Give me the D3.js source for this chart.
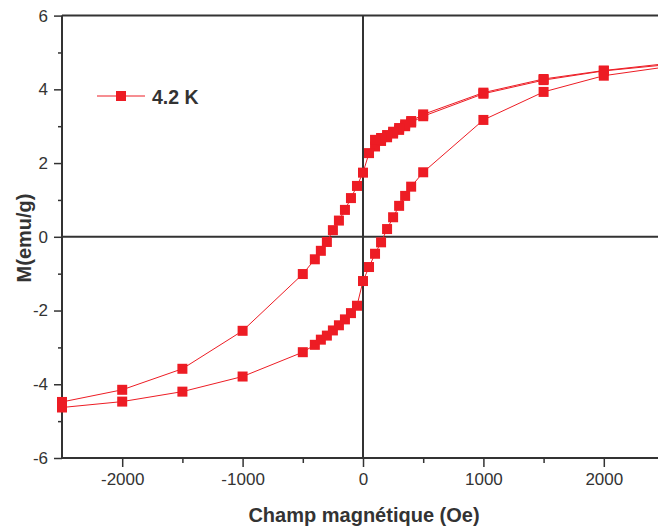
<!DOCTYPE html>
<html>
<head>
<meta charset="utf-8">
<script src="https://cdn.jsdelivr.net/npm/d3@7"></script>
<style>
  html, body { margin: 0; padding: 0; background: #fff; }
  svg { display: block; }
  text { font-family: "Liberation Sans", Arial, Helvetica, sans-serif; fill: #333; }
</style>
</head>
<body>
<svg id="chart" width="658" height="532"></svg>
<script>
// ---- data ----
const fieldDown = [2500, 2000, 1500, 1000, 500, 400, 350, 300, 250, 200, 150, 100, 50, 0, -50, -100, -150, -200, -250, -300, -350, -400, -500, -1000, -1500, -2000, -2500];
const mDown     = [4.69, 4.51, 4.28, 3.91, 3.32, 3.14, 3.05, 2.95, 2.85, 2.76, 2.68, 2.63, 2.27, 1.74, 1.38, 1.05, 0.73, 0.44, 0.18, -0.14, -0.38, -0.61, -1.01, -2.55, -3.58, -4.15, -4.48];

const fieldUp = [-2500, -2000, -1500, -1000, -500, -400, -350, -300, -250, -200, -150, -100, -50, 0, 50, 100, 150, 200, 250, 300, 350, 400, 500, 1000, 1500, 2000, 2500];
const mUp     = [-4.63, -4.47, -4.20, -3.79, -3.13, -2.93, -2.79, -2.68, -2.54, -2.40, -2.24, -2.07, -1.87, -1.20, -0.82, -0.46, -0.15, 0.21, 0.53, 0.84, 1.11, 1.36, 1.75, 3.17, 3.93, 4.37, 4.60];

const fieldInit = [100, 150, 200, 250, 300, 350, 400, 500, 1000, 1500, 2000, 2500];
const mInit     = [2.45, 2.60, 2.70, 2.80, 2.90, 3.00, 3.10, 3.27, 3.88, 4.25, 4.50, 4.66];

const xTicks = [-2000, -1000, 0, 1000, 2000];
const xMinorTicks = [-1500, -500, 500, 1500];
const yTicks = [-6, -4, -2, 0, 2, 4, 6];
const yMinorTicks = [-5, -3, -1, 1, 3, 5];
const seriesLabel = "4.2 K";
const xTitle = "Champ magnétique (Oe)";
const yTitle = "M(emu/g)";

// ---- layout ----
const RED = "#ed1c24";
const AX = "#333";
const svg = d3.select("#chart");
const x = d3.scaleLinear().domain([-2500, 2500]).range([62, 664]);
const y = d3.scaleLinear().domain([-6, 6]).range([458, 15.6]);

// frame lines (left, bottom, top)
const g = svg.append("g");
g.append("line").attr("x1", x(-2500)).attr("x2", x(-2500)).attr("y1", y(6)).attr("y2", y(-6))
  .attr("stroke", AX).attr("stroke-width", 2);
g.append("line").attr("x1", x(-2500)).attr("x2", 658).attr("y1", y(-6)).attr("y2", y(-6))
  .attr("stroke", AX).attr("stroke-width", 2);
g.append("line").attr("x1", x(-2500)).attr("x2", 658).attr("y1", y(6)).attr("y2", y(6))
  .attr("stroke", AX).attr("stroke-width", 2);

// zero lines
g.append("line").attr("x1", x(0)).attr("x2", x(0)).attr("y1", y(6)).attr("y2", y(-6))
  .attr("stroke", AX).attr("stroke-width", 2);
g.append("line").attr("x1", x(-2500)).attr("x2", 658).attr("y1", y(0)).attr("y2", y(0))
  .attr("stroke", AX).attr("stroke-width", 2);

// x axis
const xAxis = d3.axisBottom(x).tickValues(xTicks).tickSize(9).tickPadding(6).tickFormat(d3.format("d"));
const xa = svg.append("g").attr("transform", `translate(0,${y(-6)})`).call(xAxis);
xa.select(".domain").remove();
xa.selectAll(".tick line").attr("stroke", AX).attr("stroke-width", 1.5);
xa.selectAll(".tick text").attr("font-size", 17).style("fill", AX)
  .text(d => d < 0 ? "-" + Math.abs(d) : String(d));
const xm = svg.append("g").attr("transform", `translate(0,${y(-6)})`)
  .call(d3.axisBottom(x).tickValues(xMinorTicks).tickSize(5).tickFormat(""));
xm.select(".domain").remove();
xm.selectAll(".tick line").attr("stroke", AX).attr("stroke-width", 1.5);

// y axis
const yAxis = d3.axisLeft(y).tickValues(yTicks).tickSize(8).tickPadding(6)
  .tickFormat(d => d < 0 ? "-" + Math.abs(d) : String(d));
const ya = svg.append("g").attr("transform", `translate(${x(-2500)},0)`).call(yAxis);
ya.select(".domain").remove();
ya.selectAll(".tick line").attr("stroke", AX).attr("stroke-width", 1.5);
ya.selectAll(".tick text").attr("font-size", 17).style("fill", AX);
const ym = svg.append("g").attr("transform", `translate(${x(-2500)},0)`)
  .call(d3.axisLeft(y).tickValues(yMinorTicks).tickSize(4).tickFormat(""));
ym.select(".domain").remove();
ym.selectAll(".tick line").attr("stroke", AX).attr("stroke-width", 1.5);

// titles
svg.append("text").attr("x", 364).attr("y", 522).attr("text-anchor", "middle")
  .attr("font-size", 20).attr("font-weight", "bold").text(xTitle);
svg.append("text").attr("transform", "translate(31,238) rotate(-90)").attr("text-anchor", "middle")
  .attr("font-size", 20).attr("font-weight", "bold").text(yTitle);

// data series
const series = [
  fieldInit.map((f, i) => [f, mInit[i]]),
  fieldDown.map((f, i) => [f, mDown[i]]),
  fieldUp.map((f, i) => [f, mUp[i]])
];
const line = d3.line().x(d => x(d[0])).y(d => y(d[1]));
const S = 10;
series.forEach(pts => {
  svg.append("path").datum(pts).attr("d", line).attr("fill", "none")
    .attr("stroke", RED).attr("stroke-width", 1);
});
series.forEach(pts => {
  svg.append("g").selectAll("rect").data(pts).join("rect")
    .attr("x", d => x(d[0]) - S / 2).attr("y", d => y(d[1]) - S / 2)
    .attr("width", S).attr("height", S).attr("fill", RED);
});

// legend
const lg = svg.append("g");
lg.append("line").attr("x1", 97).attr("x2", 145).attr("y1", 96).attr("y2", 96)
  .attr("stroke", RED).attr("stroke-width", 1);
lg.append("rect").attr("x", 121 - S / 2).attr("y", 96 - S / 2).attr("width", S).attr("height", S).attr("fill", RED);
lg.append("text").attr("x", 152).attr("y", 103.5).attr("font-size", 19.5).attr("font-weight", "bold").text(seriesLabel);
</script>
</body>
</html>
